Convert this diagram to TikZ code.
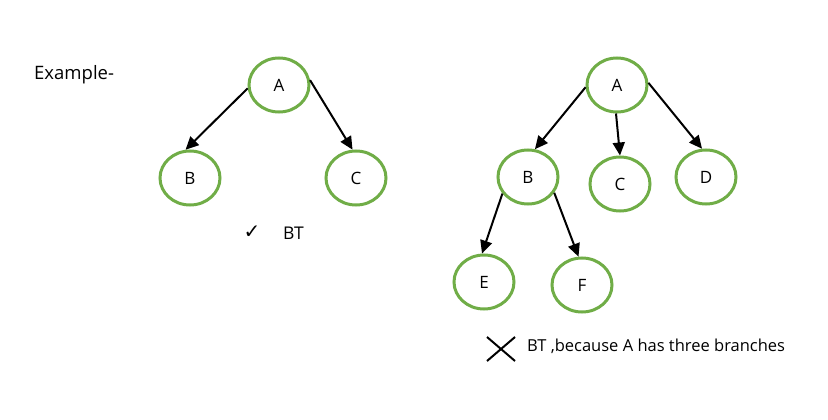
\documentclass[tikz,border=0pt]{standalone}
\usepackage{fontspec}
\setmainfont{Open Sans}
\newfontfamily\symfont{DejaVu Sans}
\usetikzlibrary{arrows.meta,shapes.geometric,shapes.misc}
\definecolor{treegreen}{RGB}{112,173,71}

\begin{document}
\begin{tikzpicture}[x=1pt, y=-1pt,
		tnode/.style={ellipse, draw=treegreen, line width=3pt, minimum width=60pt, minimum height=54pt, inner sep=0pt, font=\fontsize{17}{20}\selectfont},
		edge/.style={-{Triangle[length=13pt, width=12pt]}, line width=2pt},
		txt/.style={anchor=base west, inner sep=0pt, font=\fontsize{16.5}{20}\selectfont}]
		\useasboundingbox (0, 0) rectangle (828, 420);

		\node[txt, font=\fontsize{18.5}{22}\selectfont] (ex) at (34, 80) {Example-};

		% 左の木
		\node[tnode] (lA) at (279, 85) {A};
		\node[tnode] (lB) at (190, 178) {B};
		\node[tnode] (lC) at (356, 178) {C};
		\draw[edge] (lA.186) -- (lB.99);
		\draw[edge] (lA.9) -- (lC.97);

		\node[font=\symfont\fontsize{20}{24}\selectfont, inner sep=0pt] (ok) at (252, 232) {✓};
		\node[txt, font=\fontsize{17.5}{21}\selectfont] (okbt) at (283, 239) {BT};

		% 右の木
		\node[tnode] (rA) at (617, 85) {A};
		\node[tnode] (rB) at (528, 177) {B};
		\node[tnode] (rC) at (620, 184) {C};
		\node[tnode] (rD) at (706, 177) {D};
		\node[tnode] (rE) at (484, 282) {E};
		\node[tnode] (rF) at (582, 285) {F};
		\draw[edge] (rA.184) -- (rB.76);
		\draw[edge] (rA.268) -- (rC.90);
		\draw[edge] (rA.4) -- (rD.98);
		\draw[edge] (rB.213) -- (rE.94);
		\draw[edge] (rB.329) -- (rF.97);

		% バツと文字を描画
		\node[cross out, draw, line width=2pt, minimum width=26pt, minimum height=22pt, inner sep=0pt] (ng) at (501, 349) {};
		\node[txt] (ngbt) at (527, 351) {BT ,because A has three branches};
\end{tikzpicture}
\end{document}
